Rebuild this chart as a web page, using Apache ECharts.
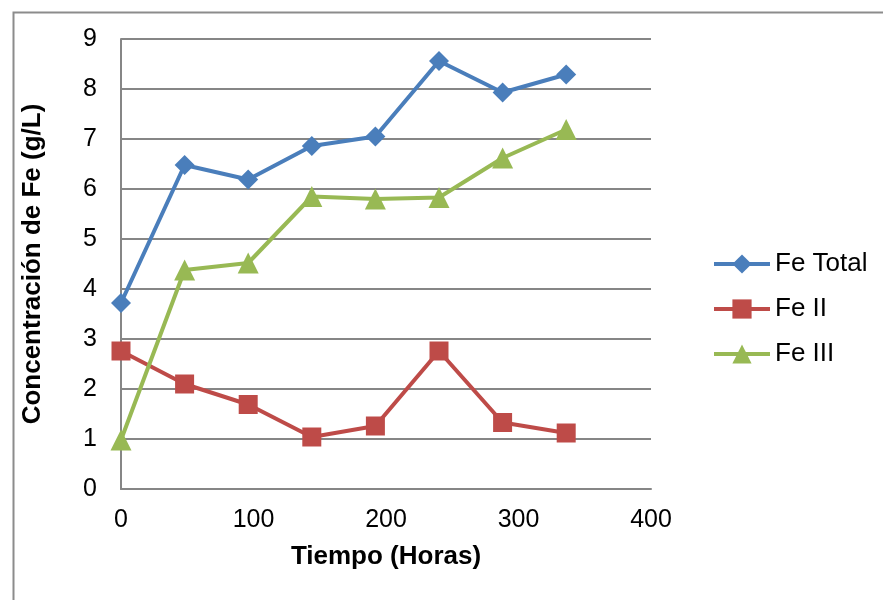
<!DOCTYPE html>
<html>
<head>
<meta charset="utf-8">
<script src="https://cdn.jsdelivr.net/npm/echarts@6/dist/echarts.min.js"></script>
<style>
  html, body { margin: 0; padding: 0; background: #fff; }
  #chart { width: 883px; height: 600px; }
</style>
</head>
<body>
<div id="chart"></div>
<script>
// Sampling times (hours)
const horas = [0, 48, 96, 144, 192, 240, 288, 336];
// Iron concentrations (g/L)
const feTotal = [3.72, 6.48, 6.19, 6.86, 7.05, 8.56, 7.93, 8.29];
const feII = [2.76, 2.10, 1.69, 1.04, 1.26, 2.76, 1.33, 1.12];
const feIII = [0.98, 4.38, 4.52, 5.85, 5.80, 5.83, 6.62, 7.19];
const seriesNames = ['Fe Total', 'Fe II', 'Fe III'];
const colors = ['#4A7EBB', '#BE4B48', '#98B954'];

const pairs = (ys) => horas.map((h, i) => [h, ys[i]]);
const font = 'Arial, "Liberation Sans", sans-serif';

const chart = echarts.init(document.getElementById('chart'));
chart.setOption({
  animation: false,
  backgroundColor: '#fff',
  graphic: [{
    type: 'rect',
    left: 11, top: 10,
    shape: { width: 1000, height: 800 },
    style: { fill: 'none', stroke: '#8c8c8c', lineWidth: 2 },
    silent: true
  }],
  grid: { left: 121, top: 39, width: 530, height: 450, containLabel: false },
  xAxis: {
    type: 'value', min: 0, max: 400, interval: 100,
    name: 'Tiempo (Horas)', nameLocation: 'middle', nameGap: 55,
    nameTextStyle: { fontFamily: font, fontSize: 26, fontWeight: 'bold', color: '#000' },
    axisLine: { show: true, lineStyle: { color: '#868686', width: 2 } },
    axisTick: { show: false },
    axisLabel: { fontFamily: font, fontSize: 25, color: '#000', margin: 19 },
    splitLine: { show: false }
  },
  yAxis: {
    type: 'value', min: 0, max: 9, interval: 1,
    name: 'Concentración de Fe (g/L)', nameLocation: 'middle', nameGap: 75,
    nameTextStyle: { fontFamily: font, fontSize: 26, fontWeight: 'bold', color: '#000' },
    axisLine: { show: true, lineStyle: { color: '#868686', width: 2 } },
    axisTick: { show: false },
    axisLabel: { fontFamily: font, fontSize: 25, color: '#000', margin: 24 },
    splitLine: { show: true, lineStyle: { color: '#868686', width: 2 } }
  },
  legend: {
    orient: 'vertical', left: 712, top: 251, itemGap: 19, padding: 0,
    itemWidth: 56, itemHeight: 24,
    lineStyle: { width: 4 },
    textStyle: { fontFamily: font, fontSize: 26, color: '#000' },
    data: seriesNames
  },
  series: [
    { name: seriesNames[0], type: 'line', data: pairs(feTotal), symbol: 'diamond', symbolSize: 20,
      color: colors[0], lineStyle: { width: 4 } },
    { name: seriesNames[1], type: 'line', data: pairs(feII), symbol: 'rect', symbolSize: 19,
      color: colors[1], lineStyle: { width: 4 } },
    { name: seriesNames[2], type: 'line', data: pairs(feIII), symbol: 'triangle', symbolSize: 21,
      color: colors[2], lineStyle: { width: 4 } }
  ]
});
</script>
</body>
</html>
